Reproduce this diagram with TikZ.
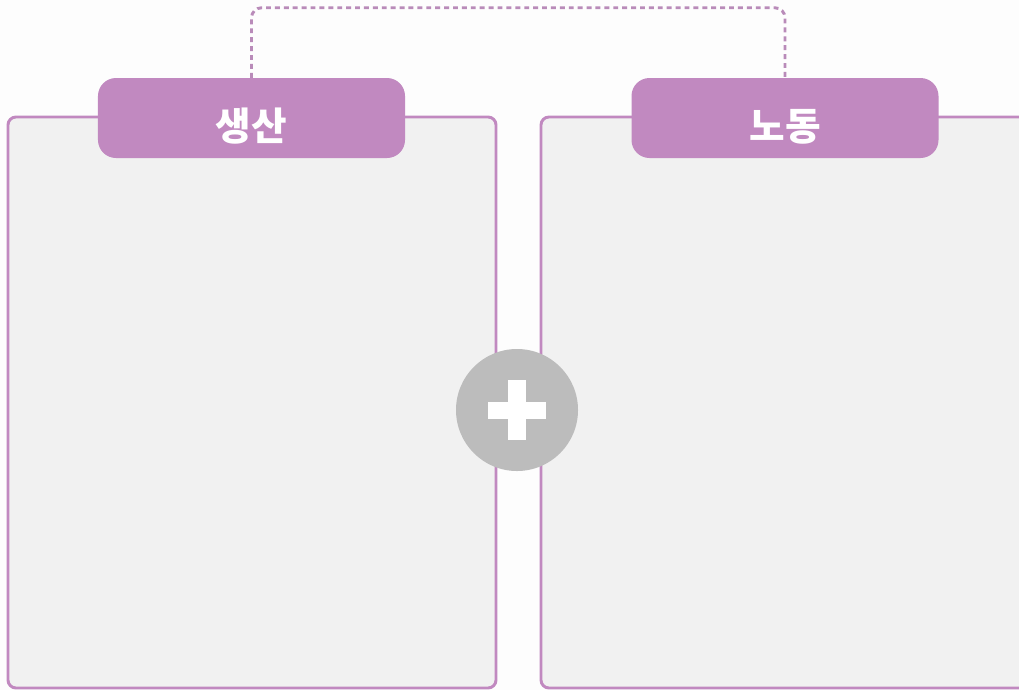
\documentclass[tikz,border=0pt]{standalone}
\usepackage{fontspec}
\newfontfamily\krfont{Noto Sans CJK KR}
\definecolor{tabpurple}{HTML}{C189C0}
\definecolor{linkpurple}{HTML}{B98BB9}
\definecolor{panelgray}{HTML}{F1F1F1}
\definecolor{pagegray}{HTML}{FDFDFD}
\definecolor{plusgray}{HTML}{BCBCBC}
\tikzset{
  panel/.style={draw=tabpurple, fill=panelgray, line width=2.5pt, rounded corners=0.24cm, minimum width=14.64cm, minimum height=17.13cm, inner sep=0},
  tab/.style={fill=tabpurple, rounded corners=0.54cm, minimum width=9.21cm, minimum height=2.4cm, inner sep=0, text=white, text height=42.6pt, text depth=4pt, font=\krfont\bfseries\fontsize{33}{36}\selectfont},
  bar/.style={fill=white, inner sep=0},
  link/.style={draw=linkpurple, line width=2.5pt, dash pattern=on 4.2pt off 3.4pt, rounded corners=0.3cm}
}
\begin{document}
\begin{tikzpicture}[x=0.03cm, y=-0.03cm]
	\useasboundingbox (0,0) rectangle (1019,690);
	\clip (0,0) rectangle (1019,690);
	\fill[pagegray] (0,0) rectangle (1019,690);
	% two panels
	\node[panel] (prodPanel) at (252, 402.5) {};
	\node[panel] (laborPanel) at (785, 402.5) {};
	% titles
	\node[tab] (prodTab) at (251.5, 118) {생산};
	\node[tab] (laborTab) at (785, 118) {노동};
	\draw[link] (prodTab.north) -- ++(0,-70) -| (laborTab.north);
	% plus sign
	\node[circle, fill=plusgray, minimum size=3.66cm, inner sep=0] (plus) at (517, 410) {};
	\node[bar, minimum width=1.74cm, minimum height=0.51cm] (plusH) at (plus.center) {};
	\node[bar, minimum width=0.54cm, minimum height=1.8cm] (plusV) at (plus.center) {};
\end{tikzpicture}
\end{document}
